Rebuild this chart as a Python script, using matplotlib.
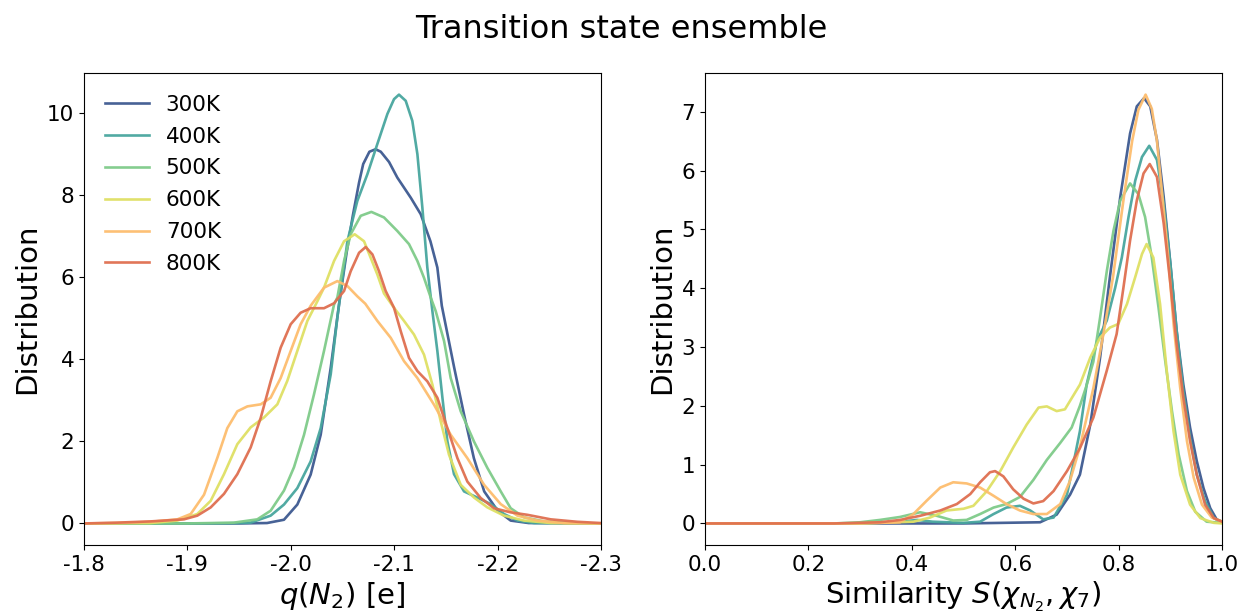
import numpy as np
import matplotlib.pyplot as plt

plt.rcParams['axes.unicode_minus'] = False

temps = ['300K', '400K', '500K', '600K', '700K', '800K']
colors = ['#3d5990', '#48a69e', '#7fcb89', '#dfe064', '#fdbd6e', '#df6f50']

# partial charge on N2, distribution per temperature
q_300 = [-1.80, -1.90, -1.95, -1.977, -1.9934, -2.0063, -2.0192, -2.0289, -2.0386, -2.047,
         -2.054, -2.060, -2.066, -2.070, -2.076, -2.082, -2.087, -2.095, -2.103, -2.116,
         -2.1256, -2.135, -2.1417, -2.146, -2.158, -2.1675, -2.177, -2.187, -2.20, -2.2126,
         -2.23, -2.30]
d_300 = [0.0, 0.0, 0.0, 0.01, 0.09, 0.46, 1.19, 2.16, 3.79, 5.4,
         6.6, 7.5, 8.3, 8.75, 9.05, 9.11, 9.05, 8.8, 8.42, 7.93,
         7.53, 6.87, 6.23, 5.3, 3.79, 2.65, 1.59, 0.78, 0.31, 0.07,
         0.01, 0.0]

q_400 = [-1.80, -1.90, -1.94, -1.9612, -1.9805, -1.9934, -2.0063, -2.0192, -2.0289, -2.0386,
         -2.045, -2.0547, -2.0643, -2.074, -2.0837, -2.0934, -2.0998, -2.1046, -2.1111, -2.1175,
         -2.1224, -2.1272, -2.132, -2.1369, -2.1417, -2.1466, -2.1514, -2.1578, -2.1675, -2.1804,
         -2.1933, -2.2062, -2.2191, -2.2352, -2.30]
d_400 = [0.0, 0.0, 0.005, 0.02, 0.19, 0.46, 0.86, 1.51, 2.32, 3.63,
         5.01, 6.87, 7.85, 8.5, 9.24, 9.97, 10.33, 10.44, 10.29, 9.80,
         8.99, 7.69, 6.23, 5.17, 4.2, 3.06, 2.0, 1.2, 0.78, 0.63,
         0.47, 0.23, 0.07, 0.01, 0.0]

q_500 = [-1.80, -1.90, -1.945, -1.9676, -1.9805, -1.9934, -2.0031, -2.0128, -2.0224, -2.0321,
         -2.0418, -2.045, -2.0515, -2.0579, -2.0676, -2.0779, -2.0901, -2.103, -2.1143, -2.1224,
         -2.1288, -2.1353, -2.1401, -2.1482, -2.1546, -2.1643, -2.1772, -2.1901, -2.203, -2.2126,
         -2.2255, -2.2449, -2.2674, -2.30]
d_500 = [0.0, 0.0, 0.02, 0.1, 0.31, 0.8, 1.37, 2.16, 3.14, 4.2,
         5.33, 5.5, 6.39, 7.04, 7.49, 7.585, 7.45, 7.12, 6.80, 6.39,
         5.98, 5.5, 5.17, 4.44, 3.54, 2.73, 1.99, 1.35, 0.78, 0.37,
         0.15, 0.05, 0.01, 0.0]

q_600 = [-1.80, -1.8645, -1.8903, -1.9096, -1.9225, -1.9354, -1.9483, -1.9612, -1.9741, -1.987,
         -1.9966, -2.0063, -2.016, -2.0257, -2.0321, -2.0418, -2.0515, -2.0618, -2.0708, -2.0772,
         -2.0837, -2.0901, -2.0998, -2.1095, -2.1191, -2.1288, -2.1369, -2.1449, -2.153, -2.1643,
         -2.1772, -2.1901, -2.2062, -2.2255, -2.2513, -2.30]
d_600 = [0.0, 0.01, 0.07, 0.23, 0.55, 1.2, 1.93, 2.34, 2.58, 2.9,
         3.47, 4.2, 4.93, 5.41, 5.74, 6.39, 6.87, 7.04, 6.87, 6.47,
         6.06, 5.6, 5.25, 4.93, 4.6, 4.11, 3.38, 2.49, 1.67, 0.94,
         0.63, 0.39, 0.19, 0.07, 0.01, 0.0]

q_700 = [-1.80, -1.8322, -1.8645, -1.8903, -1.9032, -1.9161, -1.929, -1.9386, -1.9483, -1.958,
         -1.9709, -1.9805, -1.9902, -1.9999, -2.0095, -2.0192, -2.0321, -2.045, -2.0547, -2.0643,
         -2.072, -2.0837, -2.0966, -2.1095, -2.1224, -2.1385, -2.1546, -2.1707, -2.1869, -2.203,
         -2.2191, -2.2384, -2.2642, -2.30]
d_700 = [0.0, 0.01, 0.04, 0.1, 0.23, 0.7, 1.6, 2.32, 2.73, 2.85,
         2.9, 3.06, 3.54, 4.2, 4.85, 5.3, 5.74, 5.9, 5.78, 5.53,
         5.35, 4.93, 4.52, 3.95, 3.54, 2.89, 2.16, 1.59, 0.94, 0.47,
         0.19, 0.07, 0.01, 0.0]

q_800 = [-1.80, -1.8322, -1.8645, -1.8967, -1.9096, -1.9225, -1.9354, -1.9483, -1.9612, -1.9709,
         -1.9805, -1.9902, -1.9999, -2.0095, -2.0192, -2.0321, -2.0418, -2.0515, -2.0579, -2.066,
         -2.0724, -2.0789, -2.0853, -2.0917, -2.0998, -2.1063, -2.1143, -2.1224, -2.132, -2.1417,
         -2.1514, -2.1611, -2.1707, -2.1836, -2.1965, -2.2126, -2.2288, -2.2513, -2.2771, -2.30]
d_800 = [0.0, 0.02, 0.05, 0.1, 0.19, 0.39, 0.72, 1.2, 1.85, 2.57,
         3.46, 4.28, 4.85, 5.13, 5.24, 5.24, 5.36, 5.66, 6.14, 6.59,
         6.73, 6.55, 6.14, 5.66, 5.25, 4.68, 4.03, 3.71, 3.46, 3.06,
         2.32, 1.59, 1.02, 0.62, 0.37, 0.27, 0.21, 0.1, 0.04, 0.01]

# similarity S(chi_N2, chi_7), distribution per temperature
s_300 = [0.0, 0.3, 0.5, 0.648, 0.68, 0.706, 0.725, 0.745, 0.764, 0.783,
         0.803, 0.822, 0.835, 0.849, 0.861, 0.874, 0.887, 0.900, 0.912, 0.925,
         0.938, 0.951, 0.964, 0.977, 0.990, 1.0]
p_300 = [0.0, 0.0, 0.0, 0.02, 0.15, 0.49, 0.83, 1.68, 2.82, 4.19,
         5.55, 6.63, 7.09, 7.23, 7.09, 6.52, 5.55, 4.41, 3.28, 2.36,
         1.63, 1.06, 0.60, 0.26, 0.06, 0.02]

s_400 = [0.0, 0.3, 0.38, 0.41, 0.44, 0.5, 0.532, 0.558, 0.583, 0.609,
         0.629, 0.654, 0.674, 0.700, 0.712, 0.725, 0.738, 0.758, 0.777, 0.793,
         0.806, 0.819, 0.832, 0.845, 0.859, 0.874, 0.887, 0.900, 0.912, 0.925,
         0.938, 0.951, 0.967, 0.984, 1.0]
p_400 = [0.0, 0.0, 0.03, 0.06, 0.03, 0.01, 0.03, 0.16, 0.27, 0.3,
         0.22, 0.07, 0.1, 0.49, 1.0, 1.57, 2.36, 3.1, 3.45, 4.0,
         4.52, 5.21, 5.83, 6.23, 6.42, 6.18, 5.44, 4.41, 3.28, 2.25,
         1.46, 0.83, 0.38, 0.09, 0.03]

s_500 = [0.0, 0.25, 0.3, 0.3385, 0.377, 0.416, 0.448, 0.480, 0.506, 0.532,
         0.558, 0.583, 0.609, 0.635, 0.661, 0.687, 0.709, 0.725, 0.738, 0.751,
         0.764, 0.777, 0.790, 0.803, 0.822, 0.838, 0.851, 0.864, 0.877, 0.890,
         0.903, 0.916, 0.932, 0.948, 0.970, 1.0]
p_500 = [0.0, 0.0, 0.02, 0.06, 0.11, 0.19, 0.13, 0.05, 0.06, 0.16,
         0.27, 0.33, 0.45, 0.74, 1.08, 1.37, 1.63, 2.0, 2.35, 2.75,
         3.5, 4.29, 4.98, 5.49, 5.78, 5.6, 5.21, 4.52, 3.67, 2.76,
         1.91, 1.17, 0.55, 0.2, 0.03, 0.01]

s_600 = [0.0, 0.3, 0.403, 0.435, 0.467, 0.5, 0.519, 0.545, 0.571, 0.596,
         0.622, 0.645, 0.661, 0.680, 0.696, 0.725, 0.745, 0.764, 0.783, 0.799,
         0.816, 0.832, 0.845, 0.854, 0.867, 0.880, 0.893, 0.906, 0.919, 0.938,
         0.958, 0.984, 1.0]
p_600 = [0.0, 0.0, 0.03, 0.10, 0.22, 0.25, 0.3, 0.55, 0.89, 1.29,
         1.68, 1.97, 1.99, 1.91, 1.94, 2.36, 2.82, 3.16, 3.33, 3.39,
         3.73, 4.19, 4.58, 4.75, 4.52, 3.73, 2.59, 1.57, 0.83, 0.32,
         0.09, 0.01, 0.0]

s_700 = [0.0, 0.3, 0.377, 0.403, 0.429, 0.455, 0.480, 0.506, 0.532, 0.558,
         0.583, 0.609, 0.635, 0.661, 0.687, 0.706, 0.725, 0.751, 0.770, 0.789,
         0.810, 0.826, 0.838, 0.852, 0.864, 0.874, 0.884, 0.895, 0.906, 0.919,
         0.932, 0.945, 0.961, 0.980, 1.0]
p_700 = [0.0, 0.0, 0.02, 0.16, 0.39, 0.61, 0.7, 0.68, 0.61, 0.47,
         0.33, 0.22, 0.16, 0.16, 0.33, 0.73, 1.3, 2.3, 3.2, 4.19,
         5.55, 6.5, 7.03, 7.29, 7.05, 6.5, 5.6, 4.6, 3.4, 2.3,
         1.4, 0.78, 0.32, 0.1, 0.03]

s_800 = [0.0, 0.25, 0.3385, 0.377, 0.416, 0.455, 0.487, 0.513, 0.532, 0.551,
         0.561, 0.577, 0.596, 0.616, 0.635, 0.654, 0.674, 0.700, 0.725, 0.751,
         0.777, 0.796, 0.809, 0.822, 0.835, 0.848, 0.860, 0.874, 0.887, 0.900,
         0.912, 0.925, 0.938, 0.951, 0.967, 0.984, 1.0]
p_800 = [0.0, 0.0, 0.02, 0.06, 0.13, 0.22, 0.33, 0.5, 0.7, 0.87,
         0.89, 0.8, 0.58, 0.42, 0.34, 0.38, 0.55, 0.89, 1.28, 1.8,
         2.6, 3.22, 4.0, 4.81, 5.49, 5.95, 6.11, 5.89, 5.1, 4.07,
         3.05, 2.14, 1.4, 0.83, 0.32, 0.09, 0.03]

q_curves = [(q_300, d_300), (q_400, d_400), (q_500, d_500),
            (q_600, d_600), (q_700, d_700), (q_800, d_800)]
s_curves = [(s_300, p_300), (s_400, p_400), (s_500, p_500),
            (s_600, p_600), (s_700, p_700), (s_800, p_800)]

f, (s1, s2) = plt.subplots(1, 2, figsize=(12.42, 6.15), dpi=100)
f.subplots_adjust(left=0.0676, right=0.984, top=0.881, bottom=0.114, wspace=0.201)

for (x, y), c, lab in zip(q_curves, colors, temps):
    s1.plot(x, y, '-', c=c, lw=1.9, alpha=0.95, label=lab)
for (x, y), c, lab in zip(s_curves, colors, temps):
    s2.plot(x, y, '-', c=c, lw=1.9, alpha=0.95, label=lab)

s1.set_xlim(-1.8, -2.3)
s1.set_xticks([-1.8, -1.9, -2.0, -2.1, -2.2, -2.3])
s1.set_yticks([0, 2, 4, 6, 8, 10])
s1.set_xlabel('$q(N_2)$ [e]', fontsize=21)
s1.set_ylabel('Distribution', fontsize=21)
s1.legend(loc='upper left', frameon=False, fontsize=15.5, borderaxespad=0.6,
          labelspacing=0.55)

s2.set_xlim(0, 1)
s2.set_xticks([0.0, 0.2, 0.4, 0.6, 0.8, 1.0])
s2.set_yticks(range(8))
s2.set_xlabel('Similarity $S(\\chi_{N_2}, \\chi_7)$', fontsize=21)
s2.set_ylabel('Distribution', fontsize=21)

for s in (s1, s2):
    s.tick_params(labelsize=15.5)

f.suptitle('Transition state ensemble', fontsize=23, y=0.977)
plt.savefig('out.png', dpi=100)
